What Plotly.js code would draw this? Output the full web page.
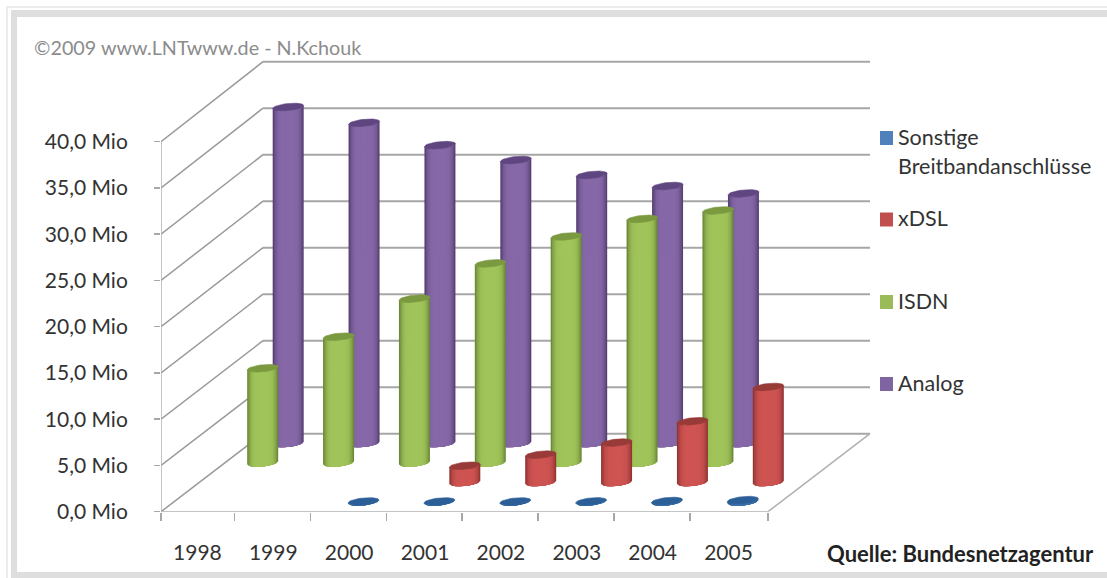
<!DOCTYPE html>
<html>
<head>
<meta charset="utf-8">
<script src="https://cdn.plot.ly/plotly-3.0.1.min.js"></script>
<style>html,body{margin:0;padding:0;background:#fff;overflow:hidden}</style>
</head>
<body>
<div id="chart" style="width:1107px;height:578px"></div>
<script>
// Telephone lines in Germany by year and access type, in millions
const years    = ['1998','1999','2000','2001','2002','2003','2004','2005'];
const analog   = [36.2, 34.5, 32.1, 30.5, 28.9, 27.7, 26.9, null];
const isdn     = [10.2, 13.6, 17.7, 21.5, 24.4, 26.3, 27.2, null];
const xdsl     = [null, null, null, 1.8, 3.0, 4.3, 6.6, 10.3];
const sonstige = [null, null, 0.05, 0.05, 0.05, 0.06, 0.1, 0.2];

const valueTicks = [0, 5, 10, 15, 20, 25, 30, 35, 40];
const tickLabel = v => v.toFixed(1).replace('.', ',') + ' Mio';

// Page geometry of the plot box (pixels)
const W = 1107, H = 578;
const pxPerCat = 75.875, pxPerMio = 9.25;
const boxLeft = 161, boxRight = 880, boxBottom = 511.7, boxTop = 50;

// Oblique projection: depth 0 is the front edge of the floor, depth 1 the back wall
const depthX = 102 / pxPerCat, depthY = 78 / pxPerMio, depthGrow = 0.0054;
const projX = (cat, depth) => cat + depth * depthX;
const projY = (val, depth) => val * (1 + depthGrow * depth) + depth * depthY;

// Column footprint on screen (pixels), converted to axis units when used
const halfWidth = 15.5, capMinor = 3.5, capTilt = 1.5;
const BANDS = 12, CURVE_STEPS = 10;

// The inner tick marks and year labels sit slightly left of the category edges
const tickNudge = 0.03, labelNudge = 0.02;

function mix(a, b, f) {
  return 'rgb(' + a.map((c, i) => Math.round(c + (b[i] - c) * f)).join(',') + ')';
}

const series = [
  {name: 'Analog',   values: analog,   depth: 7/8, edge: [78, 56, 104],  mid: [134, 104, 168], cap: '#5f4680', swatch: '#8064a2'},
  {name: 'ISDN',     values: isdn,     depth: 5/8, edge: [98, 126, 48],  mid: [160, 196, 90],  cap: '#7b9a3f', swatch: '#9bbb59'},
  {name: 'xDSL',     values: xdsl,     depth: 3/8, edge: [134, 48, 46],  mid: [206, 84, 82],   cap: '#973a38', swatch: '#c0504d'},
  {name: 'Sonstige', values: sonstige, depth: 1/8, edge: [36, 84, 140],  mid: [60, 112, 170],  cap: '#2c5f98', swatch: '#4f81bd'}
];

const traces = [];

// Walls and floor outline
function wireTrace(segments, width, color) {
  const x = [], y = [];
  segments.forEach(s => {
    x.push(projX(s[0], s[1]), projX(s[3], s[4]), null);
    y.push(projY(s[2], s[1]), projY(s[5], s[4]), null);
  });
  return {type: 'scatter', mode: 'lines', x, y, cliponaxis: false, hoverinfo: 'skip',
          showlegend: false, line: {color, width}};
}
const nCat = years.length;
traces.push(wireTrace(valueTicks.map(v => [0, 1, v, nCat, 1, v]), 2, '#a6a6a6'));
traces.push(wireTrace(valueTicks.map(v => [0, 0, v, 0, 1, v]), 1.5, '#999999'));
traces.push(wireTrace([[0, 0, 0, 0, 0, 40], [0, 0, 0, nCat, 0, 0], [nCat, 0, 0, nCat, 1, 0]], 1.5, '#b0b0b0'));

// Cylinders, back row first; shading is nested slabs from the outer edge inward
series.forEach(s => {
  for (let b = 0; b < BANDS; b++) {
    const w = 1 - b / BANDS;
    const inner = w - 0.5 / BANDS;
    const shade = Math.pow(1 - Math.pow(inner, 5), 1.1);
    const x = [], y = [];
    s.values.forEach((v, i) => {
      if (v === null) return;
      const cx = projX(i + 0.5, s.depth);
      const vx = u => cx + u * halfWidth / pxPerCat;
      const low = u => (-capMinor * Math.sqrt(Math.max(0, 1 - u * u)) + capTilt * u) / pxPerMio;
      const y0 = projY(0, s.depth), y1 = projY(v, s.depth);
      for (let k = 0; k <= CURVE_STEPS; k++) {
        const u = -w + 2 * w * k / CURVE_STEPS;
        x.push(vx(u)); y.push(y1 + low(u));
      }
      for (let k = CURVE_STEPS; k >= 0; k--) {
        const u = -w + 2 * w * k / CURVE_STEPS;
        x.push(vx(u)); y.push(y0 + low(u));
      }
      x.push(vx(-w), null); y.push(y1 + low(-w), null);
    });
    const colour = mix(s.edge, s.mid, shade);
    traces.push({type: 'scatter', mode: 'lines', x, y, fill: 'toself', cliponaxis: false,
                 hoverinfo: 'skip', showlegend: false, line: {width: 0}, fillcolor: colour});
  }
  // Top caps
  const x = [], y = [];
  s.values.forEach((v, i) => {
    if (v === null) return;
    const cx = projX(i + 0.5, s.depth), cy = projY(v, s.depth);
    for (let k = 0; k <= 40; k++) {
      const t = 2 * Math.PI * k / 40;
      x.push(cx + Math.cos(t) * halfWidth / pxPerCat);
      y.push(cy + (Math.sin(t) * capMinor + Math.cos(t) * capTilt) / pxPerMio);
    }
    x.push(null); y.push(null);
  });
  traces.push({type: 'scatter', mode: 'lines', x, y, fill: 'toself', cliponaxis: false,
               hoverinfo: 'skip', showlegend: false, line: {width: 0.6, color: s.cap}, fillcolor: s.cap});
});

const FONT = 'Lato, sans-serif';
const px = v => v / W, py = v => 1 - v / H;

// Legend entries in display order
const legendEntries = [
  {s: series[3], lines: ['Sonstige', 'Breitbandanschlüsse'], top: 131},
  {s: series[2], lines: ['xDSL'], top: 212.5},
  {s: series[1], lines: ['ISDN'], top: 295},
  {s: series[0], lines: ['Analog'], top: 377}
];

const shapes = [
  {type: 'rect', xref: 'paper', yref: 'paper', x0: px(6), x1: px(1107), y0: py(8), y1: py(6), fillcolor: '#ececec', line: {width: 0}, layer: 'below'},
  {type: 'rect', xref: 'paper', yref: 'paper', x0: px(6), x1: px(8), y0: py(578), y1: py(6), fillcolor: '#ececec', line: {width: 0}, layer: 'below'},
  {type: 'rect', xref: 'paper', yref: 'paper', x0: px(11), x1: px(1107), y0: py(17), y1: py(10), fillcolor: '#dedede', line: {width: 0}, layer: 'below'},
  {type: 'rect', xref: 'paper', yref: 'paper', x0: px(11), x1: px(17), y0: py(578), y1: py(10), fillcolor: '#dedede', line: {width: 0}, layer: 'below'},
  {type: 'rect', xref: 'paper', yref: 'paper', x0: px(11), x1: px(1107), y0: py(578), y1: py(572), fillcolor: '#dedede', line: {width: 0}, layer: 'below'}
];
const annotations = [
  {text: '©2009 www.LNTwww.de - N.Kchouk', x: px(33), y: py(47), xanchor: 'left', yanchor: 'middle',
   font: {family: FONT, size: 19.75, color: '#8c8c8c'}},
  {text: '<b>Quelle: Bundesnetzagentur</b>', x: px(1095), y: py(553), xanchor: 'right', yanchor: 'middle',
   font: {family: FONT, size: 22, color: '#222222'}}
];
legendEntries.forEach(e => {
  shapes.push({type: 'rect', xref: 'paper', yref: 'paper', x0: px(880), x1: px(893),
               y0: py(e.top + 14), y1: py(e.top), fillcolor: e.s.swatch, line: {width: 0}});
  e.lines.forEach((t, i) => annotations.push({
    text: t, x: px(897), y: py(e.top + 5.5 + i * 29), xanchor: 'left', yanchor: 'middle',
    font: {family: FONT, size: 21.5, color: '#333333'}
  }));
});
annotations.forEach(a => { a.xref = 'paper'; a.yref = 'paper'; a.showarrow = false; a.borderpad = 0; });

const layout = {
  width: W, height: H, margin: {l: 0, r: 0, t: 0, b: 0},
  paper_bgcolor: '#ffffff', plot_bgcolor: 'rgba(0,0,0,0)', showlegend: false,
  xaxis: {
    domain: [boxLeft / W, boxRight / W],
    range: [0, (boxRight - boxLeft) / pxPerCat],
    tickmode: 'array', tickvals: years.map((y, i) => i + 0.5 - labelNudge), ticktext: years, ticks: '',
    minor: {tickmode: 'array',
            tickvals: years.map((y, i) => i === 0 ? 0 : i - tickNudge).concat([nCat]),
            ticks: 'outside', ticklen: 8, tickwidth: 1.5, tickcolor: '#a8a8a8', showgrid: false},
    ticklabelstandoff: 26, showgrid: false, zeroline: false, showline: false,
    tickfont: {family: FONT, size: 21, color: '#333333'}
  },
  yaxis: {
    domain: [1 - boxBottom / H, 1 - boxTop / H],
    range: [0, (boxBottom - boxTop) / pxPerMio],
    tickmode: 'array', tickvals: valueTicks, ticktext: valueTicks.map(tickLabel),
    ticks: 'outside', ticklen: 6, tickwidth: 1.5, tickcolor: '#a8a8a8',
    ticklabelstandoff: 22, showgrid: false, zeroline: false, showline: false,
    tickfont: {family: FONT, size: 21, color: '#333333'}
  },
  shapes, annotations
};

Plotly.newPlot('chart', traces, layout, {displayModeBar: false, staticPlot: true});
</script>
</body>
</html>
